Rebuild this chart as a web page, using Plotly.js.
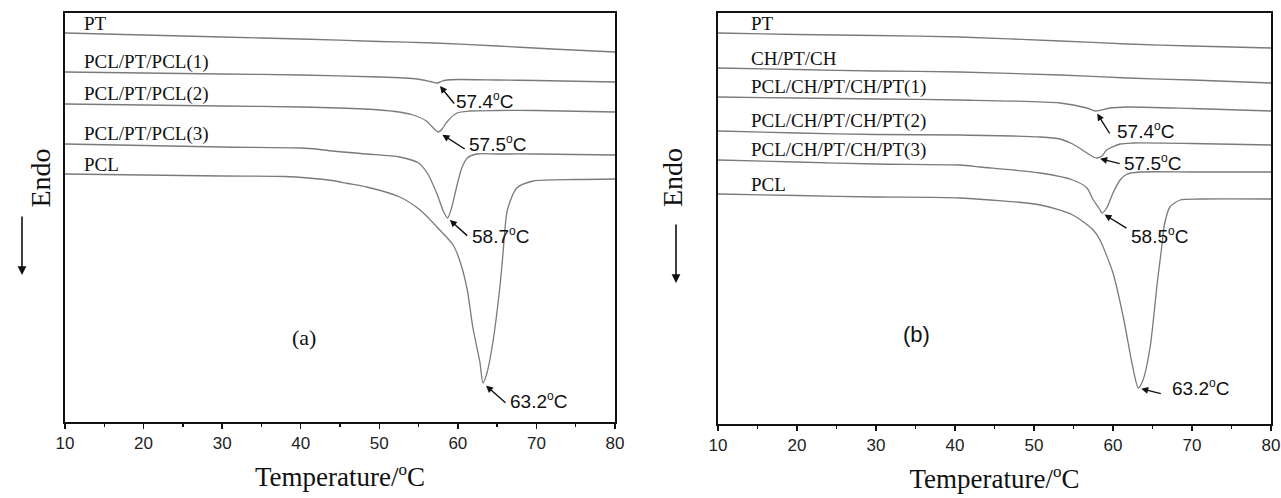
<!DOCTYPE html>
<html>
<head>
<meta charset="utf-8">
<script src="https://cdn.plot.ly/plotly-3.0.1.min.js"></script>
<style>
html,body{margin:0;padding:0;background:#fff;}
#chart{width:1281px;height:498px;}
</style>
</head>
<body>
<div id="chart"></div>
<script>
// ---------- Panel (a) : temperature (°C) and heat flow (arb. units) ----------
const a_PT_T = [10,20,30,40,50,57,65,72,80];
const a_PT_H = [389,387,385,383,380.5,379,376,373,370];

const a_S1_T = [10,20,30,40,50,54.8,56.5,57.4,58,58.6,60,65,70,80];
const a_S1_H = [350,349,348,347,345,343,340.5,339,341,342,342.5,342,341.5,340];

const a_S2_T = [10,20,30,40,48,52,54.3,56,57,57.5,58,58.6,59.9,61.5,65,70,80];
const a_S2_H = [318,317,316,315,313,310.5,307,301,293,290,293,300,309,311,311.5,311.5,310];

const a_S3_T = [10,20,30,40,42,44,48.4,52.6,55,56.1,57.3,58.2,58.7,59.2,59.9,60.5,61.2,62.4,65,70,80];
const a_S3_H = [278,276.5,275,274,273,271,268,265,259,249,229,210,204,214,237,254,264,268,268,268,267];

const a_PCL_T = [10,20,30,38,41,44,46,48.4,52.6,55.2,57.7,59.4,60.3,61.2,61.9,62.8,63.2,63.7,64.5,65.4,65.75,66.3,67.5,69.6,75,80];
const a_PCL_H = [248,247,246,245.5,244,241.5,238.5,235,225,212,192,177,160,132,95,60,39,49,82,139,169,212,234,241,242.5,243];

const a_names = ['PT','PCL/PT/PCL(1)','PCL/PT/PCL(2)','PCL/PT/PCL(3)','PCL'];
const a_peakLabels = ['57.4','57.5','58.7','63.2'];   // for series 2..5

// ---------- Panel (b) ----------
const b_PT_T = [10,20,30,40.6,53.3,61.8,70,80];
const b_PT_H = [390,388.5,387.5,386,382,379,377,375];

const b_CH_T = [10,20,30,40.6,53.3,61.8,70,80];
const b_CH_H = [355,353.5,352,351,348,345,343,340];

const b_S1_T = [10,20,30,40.6,53.3,56.7,57.8,59.6,61.8,70,80];
const b_S1_H = [326,325,324,323,320,315,312,315,316,314.5,312];

const b_S2_T = [10,20,30,40.6,50.8,53.3,54.9,56.7,57.5,58.0,58.6,59.2,60.9,62.5,70,80];
const b_S2_H = [292,290,288.5,288,286,284,279,270,266,265,267,273,279,280,279.5,278];

const b_S3_T = [10,20,30,40.6,43.2,50.8,54.9,56.7,57.5,58.3,58.6,59.2,60,60.9,61.8,63.4,70,80];
const b_S3_H = [263,261,259,258,256,250,243,235,223,214,210,215,230,243,249,251,251,251];

const b_PCL_T = [10,20,30,40.6,50.8,54.9,57.5,58.35,60,61.3,62.5,63.2,63.8,64.7,65.6,66.2,66.5,67.2,68.5,71,80];
const b_PCL_H = [229,227.5,226,225,218,208,193,183,150,106,56,35,43,76,140,178,198,216,223,224,224];

const b_names = ['PT','CH/PT/CH','PCL/CH/PT/CH/PT(1)','PCL/CH/PT/CH/PT(2)','PCL/CH/PT/CH/PT(3)','PCL'];
const b_peakLabels = ['57.4','57.5','58.5','63.2'];   // for series 3..6

const tickVals = [10,20,30,40,50,60,70,80];
const deg = '<sup><span style="font-size:17px">o</span></sup>';
const degSmall = '<sup><span style="font-size:12px">o</span></sup>';
const xTitle = 'Temperature/' + deg + 'C';
const yTitle = 'Endo';

// ---------- build ----------
const lineStyle = {color:'#7a7a7a', width:1.3, shape:'spline', smoothing:0.7};
const aSeries = [[a_PT_T,a_PT_H],[a_S1_T,a_S1_H],[a_S2_T,a_S2_H],[a_S3_T,a_S3_H],[a_PCL_T,a_PCL_H]];
const bSeries = [[b_PT_T,b_PT_H],[b_CH_T,b_CH_H],[b_S1_T,b_S1_H],[b_S2_T,b_S2_H],[b_S3_T,b_S3_H],[b_PCL_T,b_PCL_H]];

const traces = [];
aSeries.forEach((s,i)=>traces.push({x:s[0],y:s[1],name:a_names[i],mode:'lines',line:lineStyle,xaxis:'x',yaxis:'y',hoverinfo:'skip'}));
bSeries.forEach((s,i)=>traces.push({x:s[0],y:s[1],name:b_names[i],mode:'lines',line:lineStyle,xaxis:'x2',yaxis:'y2',hoverinfo:'skip'}));

const serif = 'Liberation Serif, Times New Roman, serif';
const sans = 'Liberation Sans, Arial, sans-serif';
const annotations = [];

// series name labels
function addNames(series, names, xr, yr, xshift){
  series.forEach((s,i)=>annotations.push({x:s[0][0],y:s[1][0],xref:xr,yref:yr,text:names[i],showarrow:false,
    xanchor:'left',yanchor:'middle',xshift:xshift,yshift:10,font:{family:serif,size:19,color:'#111'}}));
}
addNames(aSeries,a_names,'x','y',17);
addNames(bSeries,b_names,'x2','y2',31);

// peak arrows + labels, anchored on the minimum of each curve
function minPoint(s){let k=0;s[1].forEach((v,j)=>{if(v<s[1][k])k=j;});return [s[0][k],s[1][k]];}
function addPeak(s,label,xr,yr,ax,ay,tx,ty,standoff){
  const p=minPoint(s);
  annotations.push({x:p[0],y:p[1],xref:xr,yref:yr,text:'',showarrow:true,ax:ax,ay:ay,
    arrowhead:2,arrowsize:1,arrowwidth:1.4,arrowcolor:'#111',standoff:standoff});
  annotations.push({x:p[0],y:p[1],xref:xr,yref:yr,text:label+degSmall+'C',showarrow:false,
    xanchor:'left',yanchor:'middle',xshift:tx,yshift:ty,font:{family:sans,size:19,color:'#111'}});
}
const aOff = [[18,22,17,-17,4],[28,18,29,-11,5],[21,19,22,-17,3],[24,21,25,-17,4]];
a_peakLabels.forEach((l,i)=>{const o=aOff[i];addPeak(aSeries[i+1],l,'x','y',o[0],o[1],o[2],o[3],o[4]);});
const bOff = [[15,24,19,-19,3],[24,6,25,-4,3],[26,16,27,-22,3],[24,6,32,1,3]];
b_peakLabels.forEach((l,i)=>{const o=bOff[i];addPeak(bSeries[i+2],l,'x2','y2',o[0],o[1],o[2],o[3],o[4]);});

// panel tags
annotations.push({x:290/1281,y:1-352/498,xref:'paper',yref:'paper',text:'(a)',showarrow:false,font:{family:serif,size:22,color:'#111'}});
annotations.push({x:932/1281,y:1-349/498,xref:'paper',yref:'paper',text:'(b)',showarrow:false,font:{family:sans,size:22,color:'#111'}});

// "Endo" axis captions with a downward arrow below each
[[22,178],[672,178]].forEach(p=>annotations.push({x:p[0]/1281,y:1-p[1]/498,xref:'paper',yref:'paper',text:yTitle,textangle:-90,
  showarrow:false,font:{family:serif,size:28,color:'#111'}}));
[[22,275],[676,283]].forEach(p=>annotations.push({x:p[0]/1281,y:1-p[1]/498,xref:'paper',yref:'paper',text:'',showarrow:true,
  ax:0,ay:-60,arrowhead:2,arrowsize:1.1,arrowwidth:1.6,arrowcolor:'#111'}));

function xAxis(domain,anchor){
  return {domain:domain,anchor:anchor,range:[10,80],tickvals:tickVals,ticks:'outside',ticklen:5,tickwidth:1.5,tickcolor:'#111',
    minor:{dtick:5,tick0:5,ticks:'outside',ticklen:3,tickwidth:1.3,tickcolor:'#111'},
    showline:true,linecolor:'#111',linewidth:1.6,mirror:true,showgrid:false,zeroline:false,
    tickfont:{family:sans,size:17,color:'#222'},
    title:{text:xTitle,font:{family:serif,size:27,color:'#111'},standoff:15}};
}
function yAxis(domain,anchor,range){
  return {domain:domain,anchor:anchor,range:range,showticklabels:false,ticks:'',showline:true,linecolor:'#111',linewidth:1.6,
    mirror:true,showgrid:false,zeroline:false};
}

const layout = {
  width:1281,height:498,margin:{l:0,r:0,t:0,b:0},paper_bgcolor:'#fff',plot_bgcolor:'#fff',showlegend:false,
  xaxis:xAxis([65/1281,615/1281],'y'),
  yaxis:yAxis([1-422/498,1-13/498],'x',[0,409]),
  xaxis2:xAxis([718/1281,1271/1281],'y2'),
  yaxis2:yAxis([1-424/498,1-13/498],'x2',[-1,410]),
  annotations:annotations
};
Plotly.newPlot('chart',traces,layout,{displayModeBar:false,staticPlot:true});
</script>
</body>
</html>
